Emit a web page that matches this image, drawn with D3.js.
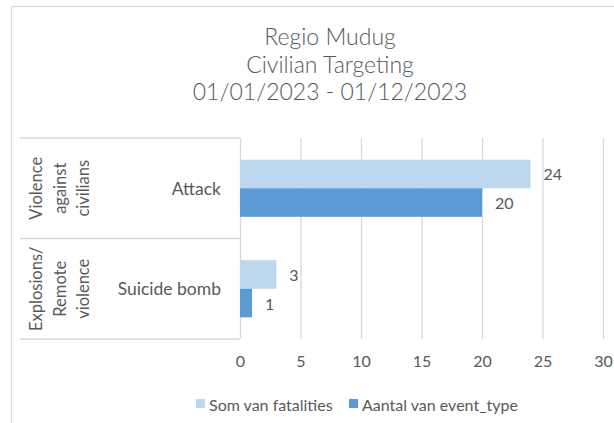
<!DOCTYPE html>
<html>
<head>
<meta charset="utf-8">
<script src="https://cdn.jsdelivr.net/npm/d3@7/dist/d3.min.js"></script>
<style>
  html, body { margin: 0; padding: 0; background: #fff; }
  svg { display: block; }
  text { font-family: Lato, "Open Sans", sans-serif; fill: #595959; }
</style>
</head>
<body>
<svg id="chart" width="614" height="423"></svg>
<script>
// ---- Data ----
const titleLines = ["Regio Mudug", "Civilian Targeting", "01/01/2023 - 01/12/2023"];
const groupLabels = [["Violence", "against", "civilians"], ["Explosions/", "Remote", "violence"]];
const categories = ["Attack", "Suicide bomb"];
const seriesNames = ["Som van fatalities", "Aantal van event_type"];
const fatalities = [24, 3];
const eventCount = [20, 1];
const tickValues = [0, 5, 10, 15, 20, 25, 30];
const seriesColors = ["#BDD7EE", "#5B9BD5"];

const svg = d3.select("#chart");
const textColor = "#595959";
const gridColor = "#D9D9D9";

// chart border
svg.append("rect")
  .attr("x", 11.5).attr("y", 6.5).attr("width", 700).attr("height", 500)
  .attr("fill", "#fff").attr("stroke", gridColor).attr("stroke-width", 1.3);

// title
svg.append("g").selectAll("text").data(titleLines).join("text")
  .attr("x", 330).attr("y", (d, i) => 45 + i * 27.5)
  .attr("text-anchor", "middle")
  .style("font-size", "23px")
  .style("font-weight", "300")
  .text(d => d);

const plotTop = 138, plotBottom = 339;
const x = d3.scaleLinear().domain([0, 30]).range([240, 603]);
const y0 = d3.scaleBand().domain(categories).range([plotTop, plotBottom]).paddingInner(0).paddingOuter(0);
const y1 = d3.scaleBand().domain(seriesNames).range([0, y0.bandwidth()]).paddingInner(0).paddingOuter(0.76);

// gridlines + tick labels
const axis = d3.axisBottom(x).tickValues(tickValues).tickSize(-(plotBottom - plotTop)).tickPadding(17);
const gAxis = svg.append("g").attr("transform", `translate(0,${plotBottom})`).call(axis);
gAxis.select(".domain").remove();
gAxis.selectAll(".tick line").attr("stroke", gridColor).attr("stroke-width", 1.3);
gAxis.selectAll(".tick text").attr("fill", textColor).style("font-size", "16px")
  .style("font-family", "Lato, 'Open Sans', sans-serif");

// category box lines
const boxLeft = 20, boxRight = x(0);
const hLines = [plotTop, y0(categories[1]), plotBottom];
svg.append("g").selectAll("line").data(hLines).join("line")
  .attr("x1", boxLeft).attr("x2", boxRight)
  .attr("y1", d => d).attr("y2", d => d)
  .attr("stroke", gridColor).attr("stroke-width", 1.3);

// bars
const rows = categories.map((c, i) => ({ cat: c, vals: [fatalities[i], eventCount[i]] }));
const gBars = svg.append("g");
rows.forEach(r => {
  r.vals.forEach((v, j) => {
    gBars.append("rect")
      .attr("x", x(0))
      .attr("y", y0(r.cat) + y1(seriesNames[j]))
      .attr("width", x(v) - x(0))
      .attr("height", y1.bandwidth())
      .attr("fill", seriesColors[j]);
    gBars.append("text")
      .attr("x", x(v) + 13)
      .attr("y", y0(r.cat) + y1(seriesNames[j]) + y1.bandwidth() / 2)
      .attr("dominant-baseline", "central")
      .style("font-size", "16px")
      .text(v);
  });
});

// category labels
svg.append("g").selectAll("text").data(categories).join("text")
  .attr("x", 221)
  .attr("y", d => y0(d) + y0.bandwidth() / 2)
  .attr("text-anchor", "end")
  .attr("dominant-baseline", "central")
  .style("font-size", "17.5px")
  .text(d => d);

// group labels (rotated)
const lineX = [36, 59.5, 83];
groupLabels.forEach((lines, gi) => {
  const cy = y0(categories[gi]) + y0.bandwidth() / 2;
  lines.forEach((ln, li) => {
    svg.append("text")
      .attr("transform", `translate(${lineX[li]},${cy}) rotate(-90)`)
      .attr("text-anchor", "middle")
      .attr("dominant-baseline", "central")
      .style("font-size", "16.5px")
      .text(ln);
  });
});

// legend
const legendItems = [{ name: seriesNames[0], x: 196 }, { name: seriesNames[1], x: 349 }];
const legY = 404;
legendItems.forEach((it, i) => {
  svg.append("rect").attr("x", it.x).attr("y", legY - 5).attr("width", 9).attr("height", 9)
    .attr("fill", seriesColors[i]);
  svg.append("text").attr("x", it.x + 13).attr("y", legY)
    .attr("dominant-baseline", "central")
    .style("font-size", "16px")
    .text(it.name);
});
</script>
</body>
</html>
